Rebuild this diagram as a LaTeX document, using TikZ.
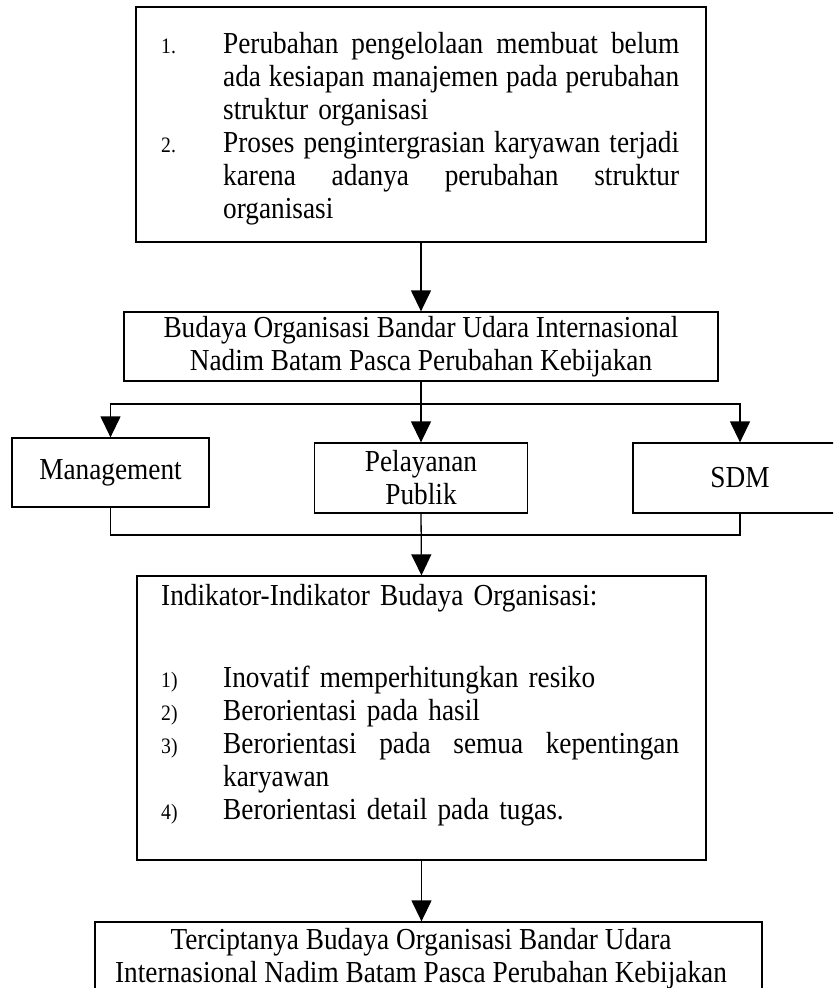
\documentclass[tikz,border=0pt]{standalone}
\usepackage{fontspec}
\setmainfont{Liberation Serif}[FakeStretch=0.895]
\usetikzlibrary{arrows.meta}
\setlength{\parindent}{0pt}
\newcommand\mainsz{\fontsize{30.5}{33}\selectfont\spaceskip=0.224em plus 0.11em minus 0.07em\relax}
\newcommand\lblsz{\fontsize{22}{24}\selectfont}
\newcommand\lb[1]{\makebox[62pt][l]{\lblsz #1}}
\newcommand\jl[1]{\hbox to 456pt{\spaceskip=0.224em plus 1fil minus 0.07em\relax #1}}
\hbadness=10000
\hfuzz=8pt
\begin{document}
\begin{tikzpicture}[x=1pt,y=-1pt,
  box/.style={draw, line width=1.3pt, inner sep=0pt, align=center, font=\mainsz},
  txt/.style={inner sep=0pt, font=\mainsz},
  conn/.style={line width=1.3pt},
  arr/.style={line width=1.3pt, -{Triangle[length=21pt,width=20pt]}}]
\useasboundingbox (0,0) rectangle (833,988);
\clip (0,0) rectangle (833,988);

% boxes
\node[box, minimum width=570pt, minimum height=235pt] (box1) at (421,124.5) {};
\node[box, minimum width=594pt, minimum height=69pt] (box2) at (421,346.5)
  {Budaya Organisasi Bandar Udara Internasional\\Nadim Batam Pasca Perubahan Kebijakan};
\node[box, minimum width=197pt, minimum height=69pt] (mgmt) at (110.5,472.5) {Management};
\node[box, minimum width=213pt, minimum height=70pt] (pel) at (421,478) {Pelayanan\\Publik};
\node[box, minimum width=214pt, minimum height=70pt] (sdm) at (740,478) {SDM};
\node[box, minimum width=569pt, minimum height=284pt] (box3) at (421.5,718) {};
\node[box, minimum width=667pt, minimum height=120pt] (box4) at (428.5,982) {};

% texts
\node[txt, anchor=north west, text width=520pt, align=left] (t1) at (161,29.9) {%
\strut\lb{1.}\jl{Perubahan pengelolaan membuat belum}\\
\lb{}\jl{ada kesiapan manajemen pada perubahan}\\
\lb{}struktur organisasi\\
\lb{2.}\jl{Proses pengintergrasian karyawan terjadi}\\
\lb{}\jl{karena adanya perubahan struktur}\\
\lb{}organisasi};

\node[txt, anchor=north west, text width=520pt, align=left] (t3) at (161,581.9) {%
\strut Indikator-Indikator Budaya Organisasi:\\[49pt]
\lb{1)}Inovatif memperhitungkan resiko\\
\lb{2)}Berorientasi pada hasil\\
\lb{3)}\jl{Berorientasi pada semua kepentingan}\\
\lb{}karyawan\\
\lb{4)}Berorientasi detail pada tugas.};

\node[txt, anchor=north, align=center] (t4) at (421,925.9) {%
\strut Terciptanya Budaya Organisasi Bandar Udara\\Internasional Nadim Batam Pasca Perubahan Kebijakan};

% connectors
\coordinate (br) at (421,404);
\coordinate (jn) at (421,535);
\draw[arr] (box1.south) -- (box2.north);
\draw[arr] (box2.south) -- (pel.north);
\draw[arr] (br) -| (mgmt.north);
\draw[arr] (br) -| (sdm.north);
\draw[conn] (mgmt.south) |- (sdm.south |- jn) -- (sdm.south);
\draw[arr] (pel.south) -- (box3.north);
\draw[arr] (box3.south) -- (box3.south |- box4.north);
\end{tikzpicture}
\end{document}
